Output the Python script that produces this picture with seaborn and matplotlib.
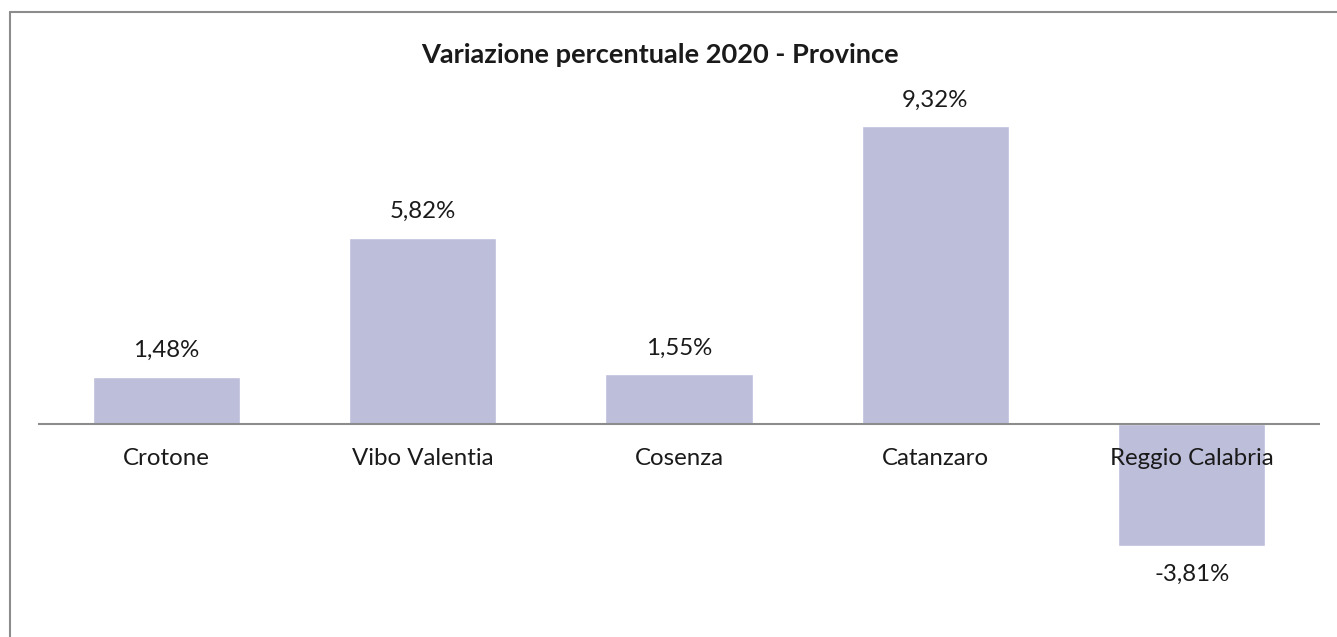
import matplotlib.pyplot as plt
import pandas as pd
import seaborn as sns
from matplotlib.lines import Line2D

sns.set_style("white")
plt.rcParams['font.family'] = ['Lato', 'DejaVu Sans']

# Dati
province = ["Crotone", "Vibo Valentia", "Cosenza", "Catanzaro", "Reggio Calabria"]
variazione = [1.48, 5.82, 1.55, 9.32, -3.81]

df = pd.DataFrame({"Provincia": province, "Variazione": variazione})

W, H = 1337, 637
fig = plt.figure(figsize=(W / 100, H / 100), dpi=100)
fig.patch.set_facecolor("white")

# area del grafico in pixel (sinistra, destra, alto, basso)
x0, x1, y_top, y_bot = 38, 1320, 100, 625
ax = fig.add_axes([x0 / W, (H - y_bot) / H, (x1 - x0) / W, (y_bot - y_top) / H])

sns.barplot(data=df, x="Provincia", y="Variazione", color="#BDBEDA",
            saturation=1, width=0.574, ax=ax)

ax.set_xlim(-0.5, 4.5)
ax.set_ylim(-6.29, 10.13)
ax.axhline(0, color="#8C8C8C", linewidth=1.5, zorder=3)

for s in ax.spines.values():
    s.set_visible(False)
ax.set_xticks([])
ax.set_yticks([])
ax.set_xlabel("")
ax.set_ylabel("")

# etichette categorie sotto la linea dello zero
for i, nome in enumerate(province):
    ax.annotate(nome, xy=(i, 0), xytext=(0, -35), textcoords="offset pixels",
                ha="center", va="center", fontsize=17.3, color="#1a1a1a", zorder=4)

# etichette valori
for i, v in enumerate(variazione):
    testo = f"{v:.2f}%".replace(".", ",")
    off = 26 if v >= 0 else -29
    ax.annotate(testo, xy=(i, v), xytext=(0, off), textcoords="offset pixels",
                ha="center", va="center", fontsize=17.3, color="#1a1a1a")

fig.text(660 / W, 1 - 55 / H, "Variazione percentuale 2020 - Province",
         ha="center", va="center", fontsize=19.6, fontweight="bold", color="#1a1a1a")

# cornice del grafico
fig.add_artist(Line2D([10 / W, 10 / W], [0, 1 - 12 / H], color="#8C8C8C", linewidth=1.5))
fig.add_artist(Line2D([10 / W, 1], [1 - 12 / H, 1 - 12 / H], color="#8C8C8C", linewidth=1.5))

fig.savefig("out.png", dpi=100)
